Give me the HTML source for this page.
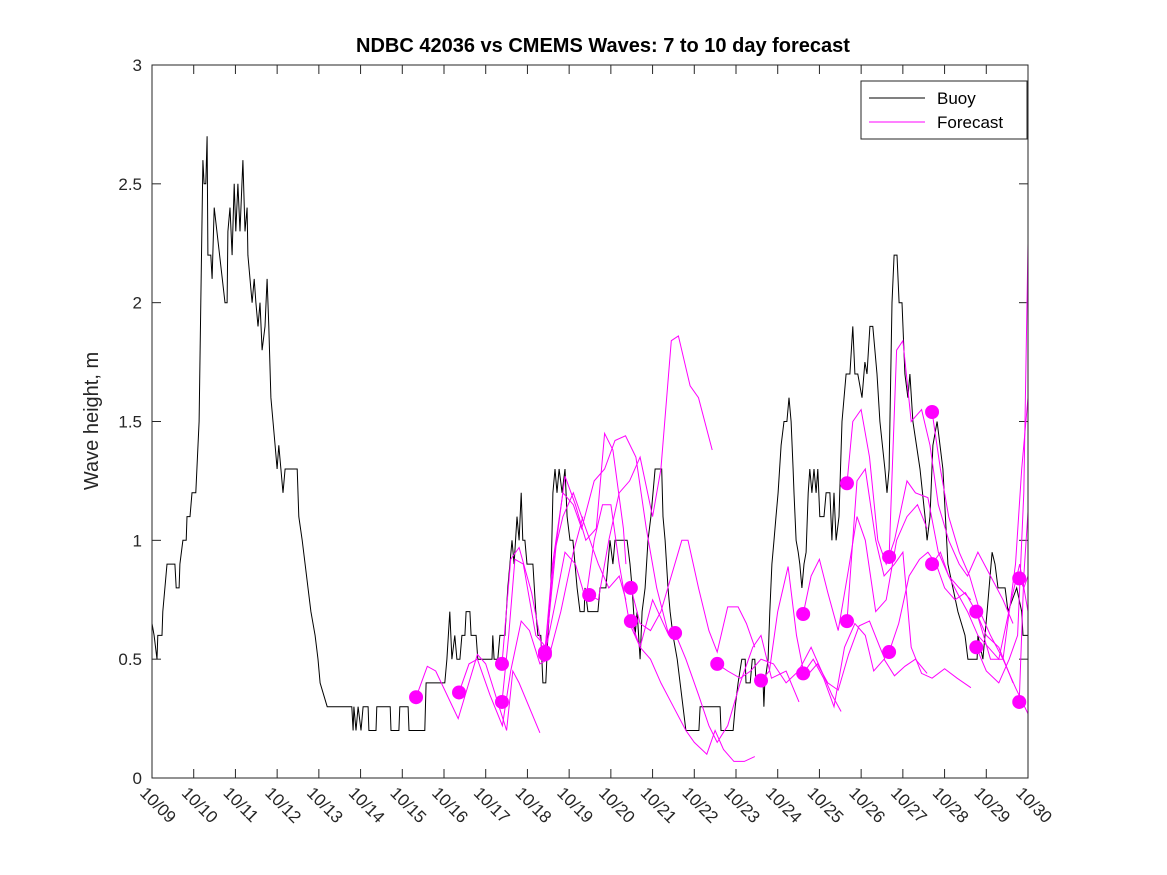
<!DOCTYPE html>
<html><head><meta charset="utf-8"><style>
html,body{margin:0;padding:0;background:#fff;}
svg{display:block;font-family:"Liberation Sans",sans-serif;}
</style></head><body>
<svg id="chart" width="1167" height="875" xmlns="http://www.w3.org/2000/svg">
<rect width="1167" height="875" fill="#fff"/>
<text x="603" y="52" text-anchor="middle" font-size="20" font-weight="bold" fill="#000">NDBC 42036 vs CMEMS Waves: 7 to 10 day forecast</text>
<text transform="translate(98,421) rotate(-90)" text-anchor="middle" font-size="20" fill="#262626">Wave height, m</text>
<g id="grid"></g>
<g id="series"></g>
<rect x="152" y="65" width="876" height="713" fill="none" stroke="#262626" stroke-width="1"/>
<g>
<rect x="861" y="81" width="166" height="58" fill="#fff" stroke="#262626" stroke-width="1"/>
<line x1="869" y1="98" x2="925" y2="98" stroke="#000"/>
<text x="937" y="104" font-size="17" fill="#000">Buoy</text>
<line x1="869" y1="122" x2="925" y2="122" stroke="#ff00ff"/>
<text x="937" y="128" font-size="17" fill="#000">Forecast</text>
</g>
</svg>
<script>
const xTickLabels = ["10/09","10/10","10/11","10/12","10/13","10/14","10/15","10/16","10/17","10/18","10/19","10/20","10/21","10/22","10/23","10/24","10/25","10/26","10/27","10/28","10/29","10/30"];
const yTicks = [0,0.5,1,1.5,2,2.5,3];
const yTickLabels = ["0","0.5","1","1.5","2","2.5","3"];
const buoyDays = [
0,0.05,0.12,0.14,0.24,0.26,0.31,0.36,0.55,0.58,
0.65,0.67,0.74,0.82,0.84,0.91,0.96,1.05,1.13,1.17,
1.22,1.25,1.29,1.32,1.34,1.41,1.44,1.49,1.75,1.80,
1.82,1.87,1.92,1.97,2.01,2.06,2.11,2.18,2.23,2.28,
2.30,2.35,2.40,2.45,2.49,2.54,2.59,2.64,2.71,2.76,
2.80,2.85,2.90,2.95,3.00,3.04,3.09,3.14,3.19,3.48,
3.52,3.60,3.67,3.74,3.81,3.91,3.98,4.03,4.20,4.79,
4.82,4.84,4.89,4.94,5.01,5.06,5.18,5.20,5.37,5.39,
5.71,5.73,5.92,5.94,6.14,6.16,6.54,6.57,7.02,7.07,
7.14,7.19,7.26,7.31,7.38,7.43,7.50,7.53,7.62,7.65,
7.77,7.81,8.15,8.17,8.20,8.29,8.34,8.46,8.53,8.58,
8.63,8.68,8.75,8.80,8.85,8.89,8.94,8.99,9.13,9.20,
9.25,9.32,9.37,9.44,9.49,9.56,9.61,9.66,9.71,9.76,
9.83,9.90,9.95,10.02,10.09,10.14,10.19,10.26,10.36,10.38,
10.45,10.69,10.74,10.88,10.93,10.98,11.05,11.10,11.39,11.46,
11.51,11.58,11.63,11.70,11.75,11.82,11.89,11.96,12.01,12.06,
12.22,12.25,12.30,12.37,12.42,12.49,12.59,12.66,12.73,12.80,
13.11,13.14,13.62,13.64,13.93,13.98,14.05,14.14,14.22,14.24,
14.34,14.39,14.45,14.48,14.65,14.67,14.69,14.77,14.81,14.86,
14.91,14.96,15.01,15.08,15.15,15.22,15.27,15.32,15.37,15.39,
15.44,15.49,15.53,15.58,15.63,15.68,15.73,15.77,15.82,15.87,
15.92,15.96,16.01,16.11,16.16,16.25,16.30,16.35,16.40,16.47,
16.54,16.64,16.73,16.80,16.85,16.92,17.02,17.09,17.14,17.21,
17.28,17.38,17.45,17.57,17.62,17.67,17.74,17.79,17.86,17.91,
17.98,18.05,18.12,18.17,18.24,18.41,18.53,18.58,18.65,18.72,
18.82,18.89,18.96,19.08,19.20,19.32,19.49,19.56,19.78,19.80,
19.92,20.02,20.14,20.21,20.28,20.45,20.52,20.73,20.85,20.88,21];
const buoyValues = [
0.65,0.6,0.5,0.6,0.6,0.7,0.8,0.9,0.9,0.8,
0.8,0.9,1.0,1.0,1.1,1.1,1.2,1.2,1.5,2.0,
2.6,2.5,2.5,2.7,2.2,2.2,2.1,2.4,2.0,2.0,
2.3,2.4,2.2,2.5,2.3,2.5,2.3,2.6,2.3,2.4,
2.2,2.1,2.0,2.1,2.0,1.9,2.0,1.8,1.9,2.1,
1.9,1.6,1.5,1.4,1.3,1.4,1.3,1.2,1.3,1.3,
1.1,1.0,0.9,0.8,0.7,0.6,0.5,0.4,0.3,0.3,
0.2,0.3,0.2,0.3,0.2,0.3,0.3,0.2,0.2,0.3,
0.3,0.2,0.2,0.3,0.3,0.2,0.2,0.4,0.4,0.5,
0.7,0.5,0.6,0.5,0.5,0.6,0.6,0.7,0.7,0.6,
0.6,0.5,0.5,0.6,0.5,0.5,0.6,0.6,0.8,0.9,
1.0,0.9,1.1,1.0,1.2,1.0,1.0,0.9,0.9,0.7,
0.6,0.6,0.4,0.4,0.6,0.8,1.2,1.3,1.2,1.3,
1.2,1.3,1.1,1.0,1.0,0.9,0.8,0.7,0.7,0.8,
0.7,0.7,0.8,0.8,0.9,1.0,0.9,1.0,1.0,0.9,
0.8,0.6,0.7,0.5,0.7,0.8,1.0,1.1,1.2,1.3,
1.3,1.1,1.0,0.8,0.7,0.6,0.5,0.4,0.3,0.2,
0.2,0.3,0.3,0.2,0.2,0.3,0.4,0.5,0.5,0.4,
0.4,0.5,0.5,0.4,0.4,0.3,0.4,0.5,0.7,0.9,
1.0,1.1,1.2,1.4,1.5,1.5,1.6,1.5,1.3,1.2,
1.0,0.95,0.9,0.8,0.9,0.95,1.2,1.3,1.2,1.3,
1.2,1.3,1.1,1.1,1.2,1.2,1.0,1.2,1.0,1.1,
1.5,1.7,1.7,1.9,1.7,1.7,1.6,1.75,1.7,1.9,
1.9,1.7,1.5,1.3,1.2,1.3,2.0,2.2,2.2,2.0,
2.0,1.7,1.6,1.7,1.5,1.3,1.1,1.0,1.1,1.4,
1.5,1.4,1.3,0.9,0.8,0.7,0.6,0.5,0.5,0.6,
0.5,0.7,0.95,0.9,0.8,0.8,0.7,0.8,0.7,0.6,0.6];
const dotDays = [6.33,7.36,8.39,8.39,9.42,9.42,10.48,11.48,11.48,12.54,13.55,14.60,15.61,15.61,16.66,16.66,17.67,17.67,18.70,18.70,19.76,19.76,20.79,20.79];
const dotValues = [0.34,0.36,0.48,0.32,0.53,0.52,0.77,0.80,0.66,0.61,0.48,0.41,0.69,0.44,1.24,0.66,0.93,0.53,1.54,0.90,0.70,0.55,0.84,0.32];
const fcDays = [
[6.33,6.6,6.8,7.34,7.8,8.0,8.5,8.65,8.8,9.3],
[7.36,7.6,7.8,8.1,8.4,8.6,8.85,9.05,9.3,9.5,9.8,10.1,10.33],
[8.39,8.6,8.8,9.1,9.4,9.65,9.85,10.1,10.4,10.7,10.95,11.2,11.36],
[8.39,8.55,8.7,8.9,9.2,9.45,9.7,9.9,10.15,10.4,10.65,10.85,11.05,11.3,11.36],
[9.42,9.6,9.85,10.1,10.3,10.6,10.85,11.1,11.35,11.6,11.85,12.1,12.39],
[9.42,9.65,9.9,10.15,10.4,10.6,10.8,11.0,11.2,11.45,11.7,12.0,12.39],
[10.48,10.7,10.95,11.2,11.45,11.7,12.0,12.2,12.45,12.62,12.9,13.1,13.43],
[11.48,11.7,11.95,12.2,12.45,12.7,12.85,13.1,13.35,13.55,13.8,14.05,14.25,14.45],
[11.48,11.7,11.95,12.2,12.5,12.8,13.0,13.3,13.5,13.7,13.95,14.2,14.45],
[12.54,12.8,13.1,13.35,13.55,13.8,14.1,14.4,14.6,14.85,15.2,15.51],
[13.55,13.8,14.1,14.35,14.6,14.9,15.2,15.5,15.8,16.05,16.3,16.52],
[14.60,14.8,15.0,15.25,15.45,15.65,15.95,16.2,16.45,16.7,16.95,17.2,17.45,17.57],
[15.61,15.8,16.0,16.2,16.45,16.7,16.9,17.1,17.35,17.6,17.85,18.1,18.35,18.58],
[15.61,15.85,16.1,16.35,16.6,16.85,17.1,17.3,17.55,17.8,18.05,18.3,18.58],
[16.66,16.8,17.0,17.2,17.4,17.6,17.8,18.1,18.3,18.6,18.85,19.1,19.35,19.63],
[16.66,16.9,17.1,17.35,17.55,17.8,18.0,18.2,18.45,18.7,19.0,19.3,19.63],
[17.67,17.85,18.0,18.2,18.45,18.65,18.85,19.1,19.35,19.55,19.8,20.1,20.4,20.64],
[17.67,17.9,18.15,18.4,18.6,18.8,19.0,19.25,19.5,19.75,20.0,20.3,20.64],
[18.70,18.9,19.1,19.35,19.6,19.85,20.1,20.4,20.7,21],
[18.70,18.9,19.1,19.3,19.55,19.8,20.05,20.3,20.6,20.8,21],
[19.76,19.9,20.1,20.4,20.7,20.85,21],
[19.76,20.0,20.3,20.55,20.75,20.9,21],
[20.79,20.9,21],
[20.79,20.9,21]
];
const fcValues = [
[0.34,0.47,0.45,0.25,0.52,0.48,0.2,0.45,0.4,0.19],
[0.36,0.48,0.5,0.35,0.22,0.45,0.66,0.62,0.48,0.5,0.7,0.95,1.1],
[0.48,0.92,0.97,0.78,0.5,0.95,1.1,1.2,1.05,0.9,0.8,0.85,0.75],
[0.32,0.6,0.92,0.9,0.6,0.55,1.0,1.27,1.15,1.0,1.05,1.45,1.38,1.05,0.9],
[0.53,0.9,1.2,1.15,1.05,1.25,1.3,1.42,1.44,1.35,1.05,0.8,0.6],
[0.52,0.72,0.95,0.9,0.75,1.0,1.15,1.15,0.9,0.65,0.55,0.75,0.6],
[0.77,0.75,1.0,1.2,1.25,1.35,1.1,1.3,1.84,1.86,1.65,1.6,1.38],
[0.80,0.65,0.62,0.7,0.85,1.0,1.0,0.8,0.62,0.53,0.72,0.72,0.65,0.55],
[0.66,0.55,0.5,0.4,0.3,0.2,0.15,0.1,0.2,0.12,0.07,0.07,0.09],
[0.61,0.5,0.35,0.22,0.15,0.22,0.4,0.55,0.6,0.42,0.45,0.32],
[0.48,0.45,0.42,0.45,0.5,0.48,0.4,0.45,0.55,0.45,0.35,0.28],
[0.41,0.45,0.7,0.89,0.6,0.42,0.48,0.4,0.37,0.52,0.64,0.66,0.55,0.5],
[0.69,0.85,0.92,0.78,0.62,0.88,1.1,1.0,0.7,0.75,1.0,1.1,1.15,1.05],
[0.44,0.5,0.42,0.3,0.55,0.65,0.6,0.45,0.5,0.43,0.47,0.5,0.44],
[1.24,1.5,1.55,1.35,1.0,0.9,1.0,1.25,1.2,1.18,0.95,0.85,0.8,0.75],
[0.66,1.25,1.3,1.0,0.85,0.9,0.95,0.55,0.44,0.42,0.46,0.42,0.38],
[0.93,1.8,1.84,1.5,1.55,1.4,1.15,1.0,0.9,0.85,0.95,0.85,0.75,0.65],
[0.53,0.65,0.85,0.92,0.95,0.9,0.8,0.75,0.78,0.7,0.6,0.55,0.4],
[1.54,1.3,1.1,0.95,0.85,0.7,0.6,0.5,0.38,0.27],
[0.90,0.95,0.85,0.78,0.7,0.6,0.55,0.5,0.75,0.9,0.7],
[0.70,0.62,0.5,0.5,0.9,1.3,1.6],
[0.55,0.45,0.4,0.5,0.6,1.2,2.25],
[0.84,0.8,0.85],
[0.32,0.85,1.12]
];

const NS = "http://www.w3.org/2000/svg";
const X0 = 152, X1 = 1028, Y0 = 778, Y1 = 65;
function xScale(d){ return X0 + d * (X1 - X0) / 21; }
function yScale(v){ return Y0 - v * (Y0 - Y1) / 3; }
function mk(tag, attrs, parent){
  const el = document.createElementNS(NS, tag);
  for (const k in attrs) el.setAttribute(k, attrs[k]);
  parent.appendChild(el);
  return el;
}
const grid = document.getElementById('grid');
const series = document.getElementById('series');

yTicks.forEach((v, i) => {
  const y = yScale(v);
  const t1 = mk('line', {x1: X0, x2: X0 + 9, y1: y, y2: y, stroke: '#262626'}, grid);
  
  
  const t2 = mk('line', {x1: X1 - 9, x2: X1, y1: y, y2: y, stroke: '#262626'}, grid);
  
  
  const tx = mk('text', {x: X0 - 10, y: y + 6, 'text-anchor': 'end', 'font-size': 17, fill: '#262626'}, grid);
  tx.textContent = yTickLabels[i];
  
  
});
xTickLabels.forEach((lab, i) => {
  const x = xScale(i);
  const t1 = mk('line', {x1: x, x2: x, y1: Y0, y2: Y0 - 9, stroke: '#262626'}, grid);
  
  
  const t2 = mk('line', {x1: x, x2: x, y1: Y1, y2: Y1 + 9, stroke: '#262626'}, grid);
  
  
  const tx = mk('text', {x: 0, y: 0, 'font-size': 17, fill: '#262626', transform: 'translate(' + (x - 13) + ',' + (Y0 + 16) + ') rotate(45)'}, grid);
  tx.textContent = lab;
  
  
});

const bpts = buoyDays.map((d, i) => xScale(d).toFixed(1) + ',' + yScale(buoyValues[i]).toFixed(1)).join(' ');
const buoy = mk('polyline', {points: bpts, fill: 'none', stroke: '#000', 'stroke-width': 1}, series);



fcDays.forEach((ds, k) => {
  const pts = ds.map((d, i) => xScale(d).toFixed(1) + ',' + yScale(fcValues[k][i]).toFixed(1)).join(' ');
  const pl = mk('polyline', {points: pts, fill: 'none', stroke: '#ff00ff', 'stroke-width': 1}, series);
  
  
});
dotDays.forEach((d, i) => {
  const c = mk('circle', {cx: xScale(d), cy: yScale(dotValues[i]), r: 7, fill: '#ff00ff'}, series);
  
  
});
</script>
</body></html>
